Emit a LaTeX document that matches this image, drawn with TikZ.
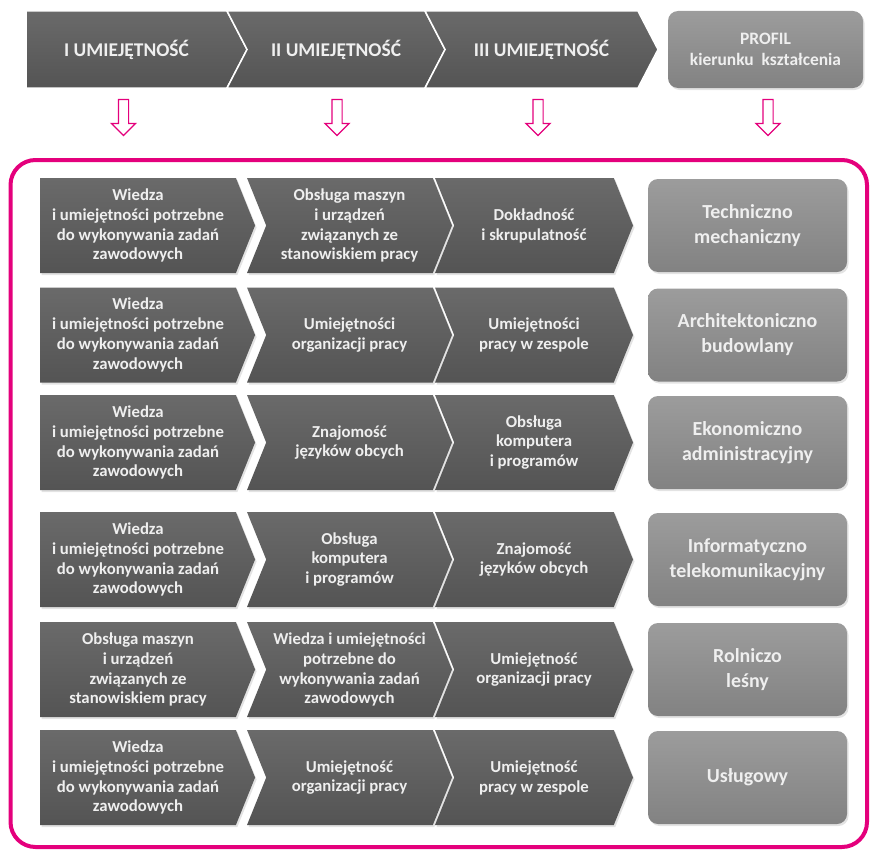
\documentclass[tikz,border=0pt]{standalone}
\usepackage{fontspec}
\setmainfont{Carlito}
\usetikzlibrary{shapes.symbols,shapes.arrows,shadows}

\definecolor{framepink}{HTML}{E4007C}
\definecolor{chevtop}{HTML}{6A6A6A}
\definecolor{chevbot}{HTML}{545454}
\definecolor{proftop}{HTML}{9C9C9C}
\definecolor{profbot}{HTML}{828282}
\definecolor{labelgray}{HTML}{EFEFEF}

\begin{document}
\begin{tikzpicture}[x=1bp,y=-1bp]
  \useasboundingbox (0,0) rectangle (873,851);

  \tikzstyle{skill}=[signal,signal to=east,signal from=west,signal pointer angle=136,
    top color=chevtop,bottom color=chevbot,draw=none,text=labelgray,align=center,
    inner sep=0pt,minimum height=95bp,font=\fontsize{16.8}{20}\selectfont\bfseries,
    drop shadow={opacity=0.22,shadow xshift=1.5bp,shadow yshift=-2bp}]
  \tikzstyle{skill a}=[skill,signal from=nowhere,minimum width=215bp]
  \tikzstyle{skill b}=[skill,minimum width=205bp,node distance=211.5bp]
  \tikzstyle{skill c}=[skill,minimum width=198bp,node distance=184.5bp]
  \tikzstyle{profil}=[rectangle,rounded corners=10bp,top color=proftop,bottom color=profbot,
    text=labelgray,align=center,minimum width=199bp,minimum height=93bp,node distance=213.5bp,
    font=\fontsize{20}{25}\selectfont\bfseries,
    drop shadow={opacity=0.22,shadow xshift=1.5bp,shadow yshift=-2bp}]
  \tikzstyle{head}=[signal,signal to=east,signal from=west,signal pointer angle=125,
    top color=chevtop,bottom color=chevbot,draw=white,line width=1.5bp,text=labelgray,
    inner sep=0pt,minimum height=77bp,font=\fontsize{19.5}{23}\selectfont\bfseries]
  \tikzstyle{down arrow}=[single arrow,shape border rotate=270,draw=framepink,fill=white,
    line width=1.2bp,inner sep=4.5bp,single arrow head extend=7bp,minimum height=36bp]

  % naglowek
  \node[head,signal from=nowhere,minimum width=221bp] (h1) at (126.5,49.5) {I UMIEJĘTNOŚĆ};
  \node[head,minimum width=218bp] (h2) at (336,49.5) {II UMIEJĘTNOŚĆ};
  \node[head,minimum width=233bp] (h3) at (541.5,49.5) {III UMIEJĘTNOŚĆ};
  \node[profil,minimum width=195bp,minimum height=77bp,font=\fontsize{17.5}{21}\selectfont\bfseries]
    (h4) at (765.5,49.5) {PROFIL\\kierunku\ \ kształcenia};

  \node[down arrow] (a1) at (123.5,115) {};
  \node[down arrow] (a2) at (337,115) {};
  \node[down arrow] (a3) at (538,115) {};
  \node[down arrow] (a4) at (768,115) {};

  \draw[framepink,line width=4bp,rounded corners=25bp] (10.5,160) rectangle (867,847);

  % wiersz 1
  \node[skill a] (r1a) at (138,225.5) {Wiedza\\i umiejętności potrzebne\\do wykonywania zadań\\zawodowych};
  \node[skill b] (r1b) [right of=r1a] {Obsługa maszyn\\i urządzeń\\związanych ze\\stanowiskiem pracy};
  \node[skill c] (r1c) [right of=r1b] {Dokładność\\i skrupulatność};
  \node[profil] (r1d) [right of=r1c] {Techniczno\\mechaniczny};

  % wiersz 2
  \node[skill a] (r2a) at (138,335) {Wiedza\\i umiejętności potrzebne\\do wykonywania zadań\\zawodowych};
  \node[skill b] (r2b) [right of=r2a] {Umiejętności\\organizacji pracy};
  \node[skill c] (r2c) [right of=r2b] {Umiejętności\\pracy w zespole};
  \node[profil] (r2d) [right of=r2c] {Architektoniczno\\budowlany};

  % wiersz 3
  \node[skill a] (r3a) at (138,442.5) {Wiedza\\i umiejętności potrzebne\\do wykonywania zadań\\zawodowych};
  \node[skill b] (r3b) [right of=r3a] {Znajomość\\języków obcych};
  \node[skill c] (r3c) [right of=r3b] {Obsługa\\komputera\\i programów};
  \node[profil] (r3d) [right of=r3c] {Ekonomiczno\\administracyjny};

  % wiersz 4
  \node[skill a] (r4a) at (138,559.5) {Wiedza\\i umiejętności potrzebne\\do wykonywania zadań\\zawodowych};
  \node[skill b] (r4b) [right of=r4a] {Obsługa\\komputera\\i programów};
  \node[skill c] (r4c) [right of=r4b] {Znajomość\\języków obcych};
  \node[profil] (r4d) [right of=r4c] {Informatyczno\\telekomunikacyjny};

  % wiersz 5
  \node[skill a] (r5a) at (138,669.5) {Obsługa maszyn\\i urządzeń\\związanych ze\\stanowiskiem pracy};
  \node[skill b] (r5b) [right of=r5a] {Wiedza i umiejętności\\potrzebne do\\wykonywania zadań\\zawodowych};
  \node[skill c] (r5c) [right of=r5b] {Umiejętność\\organizacji pracy};
  \node[profil] (r5d) [right of=r5c] {Rolniczo\\leśny};

  % wiersz 6
  \node[skill a] (r6a) at (138,777.5) {Wiedza\\i umiejętności potrzebne\\do wykonywania zadań\\zawodowych};
  \node[skill b] (r6b) [right of=r6a] {Umiejętność\\organizacji pracy};
  \node[skill c] (r6c) [right of=r6b] {Umiejętność\\pracy w zespole};
  \node[profil] (r6d) [right of=r6c] {Usługowy};
\end{tikzpicture}
\end{document}
